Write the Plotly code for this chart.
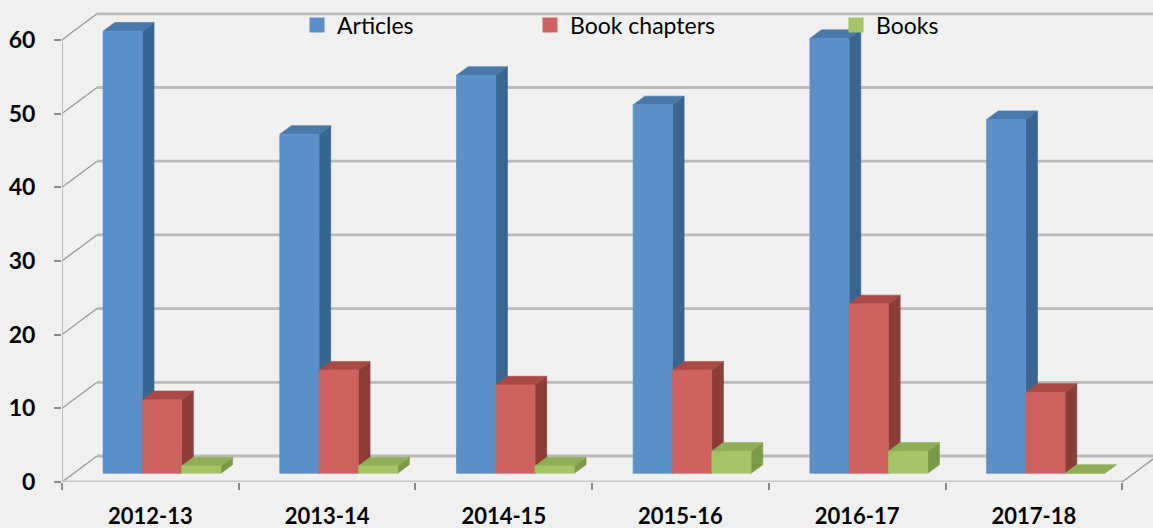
import plotly.graph_objects as go

# ---------------- data ----------------
categories = ["2012-13", "2013-14", "2014-15", "2015-16", "2016-17", "2017-18"]
articles = [60, 46, 54, 50, 59, 48]
book_chapters = [10, 14, 12, 14, 23, 11]
books = [1, 1, 1, 3, 3, 0]
series_names = ["Articles", "Book chapters", "Books"]
y_ticks = [0, 10, 20, 30, 40, 50, 60]

# ---------------- style / geometry ----------------
W, H = 1153, 528
ML, MB = 62, 46
PX_X = 176.7          # px per category unit
PX_V = 7.37           # px per value unit
DX = 35 / PX_X        # depth offset (x) of back wall, data units
DY = 26 / PX_V        # depth offset (y) of back wall, data units
D1, D2 = 1 / 3, 2 / 3 # bar depth band
BW = 0.2225           # bar width (category units)
BG = "#f0f0f0"

colors = {
    "Articles": ("#5b8fc8", "#3b6591", "#4a78ab"),
    "Book chapters": ("#cd625e", "#8c3d3a", "#a84b47"),
    "Books": ("#a5c466", "#7a9a48", "#8eae58"),
}


def proj(x, v, d):
    return x + d * DX, v + d * DY


fig = go.Figure()

n = len(categories)


def add_lines(segs, color, width):
    xs, ys = [], []
    for (p, q) in segs:
        xs += [p[0], q[0], None]
        ys += [p[1], q[1], None]
    fig.add_trace(go.Scatter(x=xs, y=ys, mode="lines", showlegend=False,
                             hoverinfo="skip", line=dict(color=color, width=width)))


# back wall gridlines
add_lines([(proj(0, v, 1), proj(n, v, 1)) for v in y_ticks], "#bababa", 2.8)
# left wall diagonals
add_lines([(proj(0, v, 0), proj(0, v, 1)) for v in y_ticks], "#999999", 1.3)
# front vertical axis
add_lines([(proj(0, 0, 0), proj(0, y_ticks[-1], 0))], "#bdbdbd", 2)
# floor front edge and right edge
add_lines([(proj(0, 0, 0), proj(n, 0, 0))], "#c8c8c8", 3)
add_lines([(proj(n, 0, 0), proj(n, 0, 1))], "#999999", 1.3)

# bars
all_series = [articles, book_chapters, books]
for j, (name, vals) in enumerate(zip(series_names, all_series)):
    front_c, side_c, top_c = colors[name]
    faces = {"side": ([], []), "top": ([], []), "front": ([], [])}
    for i, v in enumerate(vals):
        xa = i + 0.5 - 1.5 * BW + j * BW
        xb = xa + BW
        polys = {
            "side": [proj(xb, 0, D1), proj(xb, 0, D2), proj(xb, v, D2), proj(xb, v, D1)],
            "top": [proj(xa, v, D1), proj(xb, v, D1), proj(xb, v, D2), proj(xa, v, D2)],
            "front": [proj(xa, 0, D1), proj(xb, 0, D1), proj(xb, v, D1), proj(xa, v, D1)],
        }
        for k, pts in polys.items():
            xs, ys = faces[k]
            xs += [p[0] for p in pts] + [pts[0][0], None]
            ys += [p[1] for p in pts] + [pts[0][1], None]
    for k, c in (("side", side_c), ("top", top_c), ("front", front_c)):
        xs, ys = faces[k]
        fig.add_trace(go.Scatter(x=xs, y=ys, mode="lines", fill="toself",
                                 fillcolor=c, line=dict(color=c, width=0.6),
                                 showlegend=False, hoverinfo="skip"))

# legend entries (three separate legends to reproduce spacing)
legend_px = [297, 530, 836]
legend_keys = ["legend", "legend2", "legend3"]
for name, key in zip(series_names, legend_keys):
    fig.add_trace(go.Scatter(x=[None], y=[None], mode="markers", name=name,
                             legend=key,
                             marker=dict(symbol="square", size=15,
                                         color=colors[name][0])))

leg_y = (H - MB - 25) / (H - MB)
pw = W - ML
leg_common = dict(yanchor="middle", xanchor="left", bgcolor="rgba(0,0,0,0)",
                  font=dict(family="Lato", size=23, color="#000000"))
layout_legends = {}
for key, px in zip(legend_keys, legend_px):
    layout_legends[key] = dict(x=(px - ML) / pw, y=leg_y, **leg_common)

fig.update_layout(
    width=W, height=H,
    margin=dict(l=ML, r=0, t=0, b=MB, pad=0, autoexpand=False),
    paper_bgcolor=BG, plot_bgcolor=BG,
    showlegend=True,
    **layout_legends,
    xaxis=dict(range=[0, pw / PX_X], showgrid=False, zeroline=False, showline=False,
               automargin=False,
               tickvals=[i + 0.5 for i in range(n)], ticktext=categories,
               ticks="", ticklabelstandoff=19,
               tickfont=dict(family="Lato", size=22, color="#000000", weight="bold"),
               minor=dict(tick0=0, dtick=1, ticks="outside", ticklen=7,
                          tickcolor="#8a8a8a", tickwidth=1.5),
               fixedrange=True),
    yaxis=dict(range=[0, (H - MB) / PX_V], showgrid=False, zeroline=False, showline=False,
               automargin=False,
               tickvals=y_ticks, ticks="outside", ticklen=7, tickcolor="#8a8a8a",
               tickwidth=1.5, ticklabelstandoff=14,
               tickfont=dict(family="Lato", size=23, color="#000000", weight="bold"),
               fixedrange=True),
)

fig.write_html("out.html",
               config={"displayModeBar": False},
               post_script="document.body.style.margin='0px';"
                           "document.body.style.overflow='hidden';")
